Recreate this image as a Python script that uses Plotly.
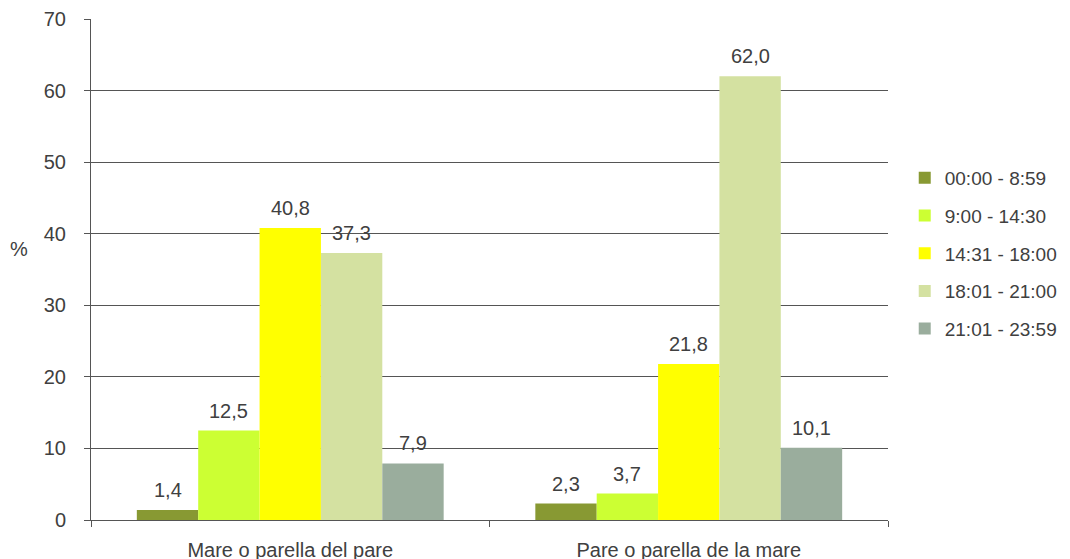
import plotly.graph_objects as go

categories = ["Mare o parella del pare", "Pare o parella de la mare"]
series_names = ["00:00 - 8:59", "9:00 - 14:30", "14:31 - 18:00", "18:01 - 21:00", "21:01 - 23:59"]
series_values = [
    [1.4, 2.3],
    [12.5, 3.7],
    [40.8, 21.8],
    [37.3, 62.0],
    [7.9, 10.1],
]
colors = ["#889933", "#CCFF33", "#FFFF00", "#D4E1A1", "#9AAD9D"]
y_ticks = [0, 10, 20, 30, 40, 50, 60, 70]

FONT = "Liberation Sans, Arial, sans-serif"
TXT = "#404040"
LINE = "#555555"
FS = 20

# page body has an 8px margin, so the figure is sized to end at the window edge
W, H = 1062, 551
ML, MR, MT, MB = 83, 182, 11, 39
BARGAP = 0.23
plot_w = W - ML - MR
cat_w = plot_w / len(categories)
bar_w = cat_w * (1 - BARGAP) / len(series_names)

fig = go.Figure()
annotations = []
n = len(series_names)
for i, (name, vals, col) in enumerate(zip(series_names, series_values, colors)):
    fig.add_trace(go.Bar(
        name=name, x=categories, y=vals,
        marker=dict(color=col, line=dict(width=0)),
        legendgroup=name,
    ))
    for c, v in zip(categories, vals):
        annotations.append(dict(
            x=c, y=v, xref="x", yref="y", text=f"{v:.1f}".replace(".", ","),
            showarrow=False, xanchor="center", yanchor="bottom",
            xshift=(i - (n - 1) / 2) * bar_w, yshift=7,
            font=dict(family=FONT, size=FS, color=TXT),
        ))

annotations.append(dict(text="%", xref="paper", yref="paper", x=-0.09, y=0.541,
                        xanchor="center", yanchor="middle", showarrow=False,
                        font=dict(family=FONT, size=FS, color=TXT)))

fig.update_layout(
    width=W, height=H,
    barmode="group", bargap=BARGAP, bargroupgap=0,
    paper_bgcolor="white", plot_bgcolor="white",
    margin=dict(l=ML, r=MR, t=MT, b=MB, autoexpand=False),
    font=dict(family=FONT, size=FS, color=TXT),
    showlegend=True,
    legend=dict(x=1.021, xanchor="left", y=0.532, yanchor="middle",
                font=dict(family=FONT, size=19, color=TXT),
                tracegroupgap=10, itemwidth=30),
    xaxis=dict(
        showline=True, linecolor=LINE, linewidth=1, automargin=False,
        ticks="outside", ticklen=6, tickcolor=LINE, tickson="boundaries",
        showgrid=False, tickfont=dict(size=FS), ticklabelstandoff=12,
    ),
    yaxis=dict(
        range=[0, 70], tickvals=y_ticks, automargin=False,
        showline=True, linecolor=LINE, linewidth=1,
        ticks="outside", ticklen=6, tickcolor=LINE,
        showgrid=True, gridcolor=LINE, gridwidth=1,
        zeroline=False, tickfont=dict(size=FS), ticklabelstandoff=14,
    ),
    annotations=annotations,
)

fig.write_html("out.html")
